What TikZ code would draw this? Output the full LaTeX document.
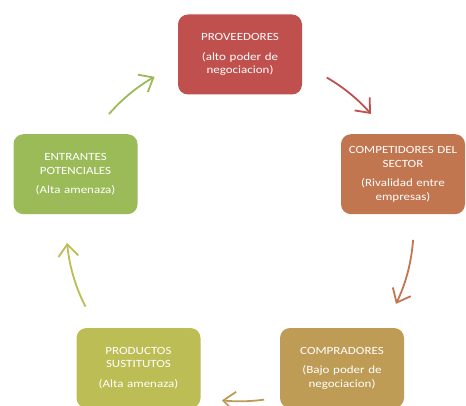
\documentclass[tikz,border=0pt]{standalone}
\usepackage{fontspec}
\setmainfont[FakeStretch=1.18]{Carlito}
\usetikzlibrary{arrows.meta}
\definecolor{provcol}{HTML}{C0504D}
\definecolor{compcol}{HTML}{C17650}
\definecolor{comprcol}{HTML}{BE9C56}
\definecolor{prodcol}{HTML}{BDBD56}
\definecolor{entrcol}{HTML}{9BBB59}

\begin{document}
\begin{tikzpicture}[x=1pt,y=1pt,
  fuerza/.style={rounded corners=10pt,minimum width=124pt,minimum height=80pt,
    text width=116pt,align=center,text=white,font=\fontsize{11}{13.5}\selectfont},
  flecha/.style={line width=1.8pt,-{Straight Barb[length=12pt,width=20pt]}}]
\useasboundingbox (0,0) rectangle (466,405);
\coordinate (c) at (240,177.2);
% las cinco fuerzas
\node[fuerza,fill=provcol] (prov) at (240,350.5) {PROVEEDORES\\[6pt](alto poder de\\negociacion)};
\node[fuerza,fill=compcol] (comp) at (403,230.8) {COMPETIDORES DEL\\SECTOR\\[6pt](Rivalidad entre\\empresas)};
\node[fuerza,fill=comprcol] (compr) at (342,37) {COMPRADORES\\[6pt](Bajo poder de\\negociacion)};
\node[fuerza,fill=prodcol] (prod) at (138.5,37) {PRODUCTOS\\SUSTITUTOS\\[6pt](Alta amenaza)};
\node[fuerza,fill=entrcol] (entr) at (75.5,230.8) {ENTRANTES\\POTENCIALES\\[6pt](Alta amenaza)};
% flechas del ciclo
\coordinate (a1) at ([shift={(60:173.5)}]c);
\coordinate (a2) at ([shift={(-4:173.5)}]c);
\coordinate (a3) at ([shift={(-82:173.5)}]c);
\coordinate (a4) at ([shift={(207:173.5)}]c);
\coordinate (a5) at ([shift={(139:173.5)}]c);
\draw[flecha,provcol] (a1) arc[start angle=60,end angle=41,radius=173.5];
\draw[flecha,compcol] (a2) arc[start angle=-4,end angle=-26,radius=173.5];
\draw[flecha,comprcol] (a3) arc[start angle=-82,end angle=-96,radius=173.5];
\draw[flecha,prodcol] (a4) arc[start angle=207,end angle=185,radius=173.5];
\draw[flecha,entrcol] (a5) arc[start angle=139,end angle=119.5,radius=173.5];
\end{tikzpicture}
\end{document}
